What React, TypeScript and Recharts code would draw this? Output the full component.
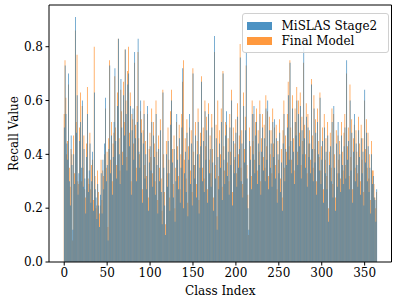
import React from 'react';
import { BarChart, Bar, XAxis, YAxis } from 'recharts';

// class indices 0..364
const classIndex = Array.from({ length: 365 }, (_, i) => i);

const mislasStage2 = [
  0.50, 0.73, 0.55, 0.44, 0.38, 0.70, 0.30, 0.21, 0.47, 0.36, 0.12, 0.40, 0.29, 0.91, 0.48, 0.62, 0.25, 0.33, 0.45, 0.52,
  0.35, 0.60, 0.28, 0.42, 0.31, 0.18, 0.39, 0.55, 0.26, 0.34, 0.44, 0.22, 0.30, 0.41, 0.19, 0.63, 0.27, 0.24, 0.16, 0.29,
  0.21, 0.13, 0.25, 0.33, 0.18, 0.38, 0.27, 0.44, 0.61, 0.30, 0.36, 0.08, 0.42, 0.73, 0.33, 0.47, 0.25, 0.39, 0.52, 0.72,
  0.45, 0.31, 0.58, 0.83, 0.40, 0.29, 0.68, 0.50, 0.36, 0.62, 0.47, 0.79, 0.55, 0.34, 0.66, 0.70, 0.43, 0.58, 0.25, 0.49,
  0.57, 0.38, 0.78, 0.46, 0.30, 0.52, 0.83, 0.41, 0.35, 0.60, 0.48, 0.22, 0.44, 0.55, 0.31, 0.40, 0.27, 0.58, 0.19, 0.37,
  0.43, 0.34, 0.52, 0.28, 0.47, 0.39, 0.25, 0.55, 0.36, 0.18, 0.42, 0.30, 0.49, 0.26, 0.14, 0.63, 0.35, 0.21, 0.10, 0.40,
  0.28, 0.45, 0.33, 0.19, 0.51, 0.60, 0.37, 0.24, 0.42, 0.15, 0.30, 0.55, 0.38, 0.27, 0.46, 0.22, 0.35, 0.50, 0.72, 0.20,
  0.33, 0.41, 0.26, 0.48, 0.17, 0.38, 0.55, 0.29, 0.44, 0.21, 0.70, 0.36, 0.31, 0.47, 0.24, 0.40, 0.52, 0.18, 0.35, 0.43,
  0.67, 0.30, 0.45, 0.26, 0.56, 0.38, 0.49, 0.22, 0.55, 0.33, 0.42, 0.28, 0.50, 0.37, 0.19, 0.84, 0.31, 0.46, 0.12, 0.39,
  0.27, 0.44, 0.35, 0.52, 0.23, 0.70, 0.38, 0.29, 0.47, 0.56, 0.32, 0.41, 0.25, 0.50, 0.36, 0.60, 0.21, 0.45, 0.33, 0.39,
  0.48, 0.28, 0.54, 0.35, 0.42, 0.76, 0.30, 0.44, 0.24, 0.58, 0.37, 0.49, 0.78, 0.31, 0.20, 0.12, 0.45, 0.38, 0.27, 0.55,
  0.40, 0.58, 0.33, 0.47, 0.52, 0.29, 0.44, 0.36, 0.55, 0.25, 0.41, 0.50, 0.34, 0.46, 0.30, 0.57, 0.38, 0.60, 0.27, 0.49,
  0.35, 0.44, 0.28, 0.52, 0.39, 0.53, 0.31, 0.46, 0.22, 0.40, 0.33, 0.48, 0.26, 0.37, 0.19, 0.44, 0.55, 0.30, 0.42, 0.36,
  0.50, 0.62, 0.38, 0.74, 0.45, 0.33, 0.57, 0.41, 0.29, 0.52, 0.47, 0.60, 0.36, 0.55, 0.43, 0.58, 0.31, 0.49, 0.40, 0.80,
  0.46, 0.35, 0.54, 0.28, 0.50, 0.39, 0.44, 0.33, 0.66, 0.42, 0.30, 0.57, 0.37, 0.48, 0.25, 0.52, 0.40, 0.34, 0.61, 0.29,
  0.38, 0.45, 0.22, 0.50, 0.33, 0.41, 0.27, 0.47, 0.15, 0.36, 0.43, 0.30, 0.52, 0.24, 0.58, 0.35, 0.19, 0.44, 0.28, 0.52,
  0.33, 0.40, 0.26, 0.47, 0.36, 0.29, 0.43, 0.50, 0.31, 0.75, 0.38, 0.45, 0.27, 0.60, 0.34, 0.48, 0.22, 0.41, 0.55, 0.30,
  0.44, 0.36, 0.28, 0.49, 0.39, 0.25, 0.46, 0.33, 0.41, 0.21, 0.64, 0.37, 0.48, 0.30, 0.43, 0.26, 0.35, 0.18, 0.40, 0.29,
  0.32, 0.24, 0.23, 0.15, 0.27,
];

const finalModel = [
  0.55, 0.75, 0.61, 0.40, 0.45, 0.66, 0.35, 0.28, 0.42, 0.40, 0.08, 0.47, 0.33, 0.86, 0.52, 0.77, 0.30, 0.29, 0.50, 0.63,
  0.30, 0.58, 0.35, 0.47, 0.27, 0.24, 0.44, 0.65, 0.31, 0.29, 0.48, 0.27, 0.36, 0.38, 0.23, 0.80, 0.32, 0.20, 0.21, 0.34,
  0.26, 0.18, 0.21, 0.38, 0.23, 0.34, 0.32, 0.40, 0.57, 0.35, 0.41, 0.13, 0.46, 0.75, 0.38, 0.52, 0.30, 0.44, 0.48, 0.69,
  0.50, 0.36, 0.63, 0.83, 0.46, 0.34, 0.64, 0.56, 0.41, 0.67, 0.52, 0.79, 0.60, 0.39, 0.71, 0.80, 0.48, 0.63, 0.30, 0.55,
  0.53, 0.44, 0.74, 0.51, 0.35, 0.58, 0.78, 0.46, 0.40, 0.56, 0.53, 0.27, 0.49, 0.60, 0.36, 0.45, 0.32, 0.55, 0.24, 0.42,
  0.48, 0.39, 0.57, 0.33, 0.52, 0.44, 0.30, 0.60, 0.41, 0.23, 0.47, 0.35, 0.53, 0.31, 0.19, 0.64, 0.40, 0.26, 0.14, 0.45,
  0.33, 0.50, 0.38, 0.24, 0.56, 0.64, 0.42, 0.29, 0.47, 0.20, 0.35, 0.52, 0.43, 0.32, 0.51, 0.27, 0.40, 0.55, 0.67, 0.75,
  0.38, 0.46, 0.31, 0.53, 0.22, 0.43, 0.50, 0.34, 0.49, 0.26, 0.72, 0.41, 0.36, 0.52, 0.29, 0.45, 0.57, 0.23, 0.40, 0.48,
  0.69, 0.35, 0.50, 0.31, 0.60, 0.43, 0.54, 0.27, 0.59, 0.38, 0.47, 0.33, 0.55, 0.42, 0.24, 0.78, 0.36, 0.51, 0.17, 0.60,
  0.32, 0.49, 0.40, 0.57, 0.28, 0.71, 0.43, 0.34, 0.52, 0.51, 0.37, 0.46, 0.30, 0.55, 0.41, 0.64, 0.26, 0.50, 0.38, 0.44,
  0.53, 0.33, 0.59, 0.40, 0.47, 0.81, 0.35, 0.49, 0.29, 0.63, 0.42, 0.54, 0.73, 0.36, 0.25, 0.10, 0.50, 0.43, 0.32, 0.60,
  0.45, 0.55, 0.38, 0.52, 0.57, 0.34, 0.49, 0.41, 0.60, 0.30, 0.46, 0.55, 0.39, 0.51, 0.35, 0.62, 0.43, 0.56, 0.32, 0.54,
  0.40, 0.49, 0.33, 0.57, 0.44, 0.50, 0.36, 0.51, 0.27, 0.45, 0.38, 0.53, 0.31, 0.42, 0.24, 0.49, 0.60, 0.35, 0.47, 0.41,
  0.55, 0.67, 0.43, 0.75, 0.50, 0.38, 0.62, 0.46, 0.34, 0.57, 0.52, 0.65, 0.41, 0.60, 0.48, 0.63, 0.36, 0.54, 0.45, 0.74,
  0.51, 0.40, 0.59, 0.33, 0.55, 0.44, 0.49, 0.38, 0.68, 0.47, 0.35, 0.62, 0.42, 0.53, 0.30, 0.57, 0.45, 0.39, 0.63, 0.34,
  0.43, 0.50, 0.27, 0.55, 0.38, 0.46, 0.32, 0.52, 0.20, 0.41, 0.48, 0.35, 0.57, 0.29, 0.55, 0.40, 0.24, 0.49, 0.33, 0.47,
  0.38, 0.45, 0.31, 0.52, 0.41, 0.34, 0.48, 0.55, 0.36, 0.70, 0.43, 0.50, 0.32, 0.66, 0.39, 0.53, 0.27, 0.46, 0.51, 0.35,
  0.49, 0.41, 0.33, 0.54, 0.44, 0.30, 0.51, 0.38, 0.46, 0.26, 0.60, 0.42, 0.53, 0.35, 0.48, 0.31, 0.40, 0.23, 0.45, 0.34,
  0.34, 0.29, 0.24, 0.20, 0.26,
];

const yTicks = [0, 0.2, 0.4, 0.6, 0.8];

const BLUE = '#1f77b4';
const ORANGE = '#ff7f0e';
const FONT = '"DejaVu Serif", serif';

const data = classIndex.map((i) => ({
  idx: i,
  mislas: mislasStage2[i],
  final: finalModel[i],
}));

const legendItems = [
  { name: 'MiSLAS Stage2', color: BLUE },
  { name: 'Final Model', color: ORANGE },
];

const LegendBox = () => (
  <div
    style={{
      position: 'absolute',
      left: 241.5,
      top: 13,
      boxSizing: 'border-box',
      width: 147,
      height: 40,
      border: '1px solid #d0d0d0',
      borderRadius: 3,
      background: 'rgba(255,255,255,0.8)',
      padding: '5px 4px',
      fontFamily: FONT,
      fontSize: 12,
      color: '#000',
    }}
  >
    {legendItems.map((it) => (
      <div key={it.name} style={{ display: 'flex', alignItems: 'center', height: 14.5 }}>
        <span style={{ width: 25, height: 8, background: it.color, opacity: 0.8, flex: 'none' }} />
        <span style={{ marginLeft: 10, whiteSpace: 'nowrap' }}>{it.name}</span>
      </div>
    ))}
  </div>
);

export default function App() {
  return (
    <div style={{ position: 'absolute', left: 0, top: 0, width: 399, height: 304, background: '#fff' }}>
      <BarChart
        width={399}
        height={304}
        data={data}
        margin={{ top: 4, right: 6.5, bottom: 0, left: 0 }}
        barGap={-0.55}
        barCategoryGap={0}
      >
        <XAxis
          dataKey="idx"
          type="category"
          interval={49}
          padding={{ left: 14.8, right: 14.4 }}
          height={42}
          tickSize={3.5}
          tickMargin={3}
          axisLine={{ stroke: '#000' }}
          tickLine={{ stroke: '#000' }}
          tick={{ fill: '#000', fontFamily: FONT, fontSize: 12 }}
          label={{ value: 'Class Index', position: 'insideBottom', offset: 9, fill: '#000', fontFamily: FONT, fontSize: 12 }}
        />
        <XAxis
          xAxisId="top"
          dataKey="idx"
          orientation="top"
          height={1}
          tick={false}
          tickLine={false}
          axisLine={{ stroke: '#000' }}
        />
        <YAxis
          domain={[0, 0.955]}
          ticks={yTicks}
          width={49}
          tickSize={3.5}
          tickMargin={2.5}
          tickFormatter={(v) => v.toFixed(1)}
          axisLine={{ stroke: '#000' }}
          tickLine={{ stroke: '#000' }}
          tick={{ fill: '#000', fontFamily: FONT, fontSize: 12 }}
          label={{ value: 'Recall Value', angle: -90, position: 'insideLeft', offset: 14, style: { textAnchor: 'middle' }, fill: '#000', fontFamily: FONT, fontSize: 12 }}
        />
        <YAxis
          yAxisId="right"
          orientation="right"
          width={1}
          tick={false}
          tickLine={false}
          axisLine={{ stroke: '#000' }}
        />
        <Bar dataKey="final" name="Final Model" fill={ORANGE} fillOpacity={0.85} barSize={0.7} isAnimationActive={false} />
        <Bar dataKey="mislas" name="MiSLAS Stage2" fill={BLUE} fillOpacity={0.85} barSize={0.7} isAnimationActive={false} />
      </BarChart>
      <LegendBox />
    </div>
  );
}
